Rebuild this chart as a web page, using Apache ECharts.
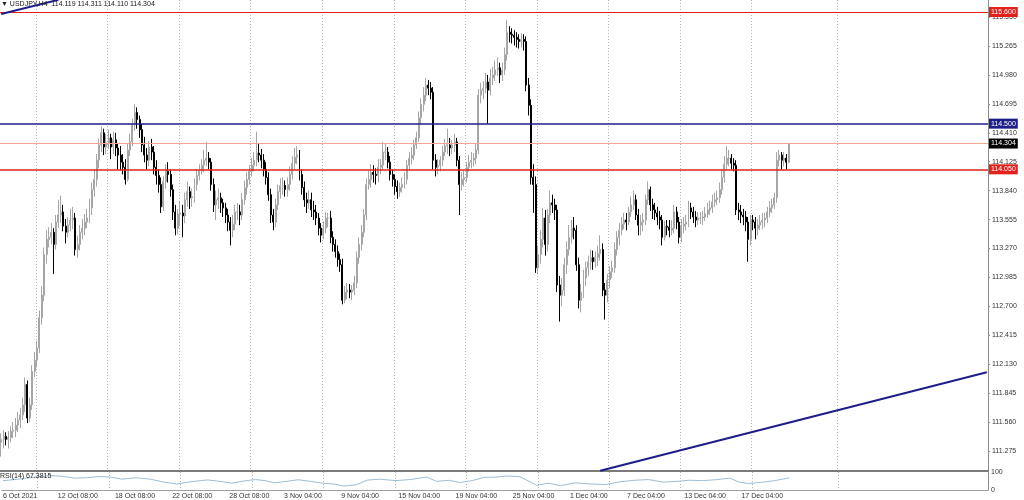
<!DOCTYPE html>
<html><head><meta charset="utf-8">
<script src="https://cdn.jsdelivr.net/npm/echarts@6/dist/echarts.min.js"></script>
<style>html,body{margin:0;padding:0;background:#fff}#c{width:1024px;height:500px}</style>
</head><body><div id="c"></div>
<script>
const symbolName = 'USDJPY,H4';
const opens = [
111.36,111.39,111.42,111.39,111.41,111.47,111.48,111.53,111.58,111.63,
111.73,111.93,111.60,111.73,112.06,112.17,112.29,112.59,112.81,113.21,
113.36,113.38,113.43,113.31,113.53,113.60,113.63,113.49,113.43,113.50,
113.55,113.57,113.26,113.31,113.43,113.47,113.53,113.57,113.67,113.85,
113.95,114.14,114.29,114.41,114.27,114.31,114.36,114.27,114.34,114.26,
114.19,114.12,114.07,113.95,114.24,114.32,114.49,114.61,114.54,114.44,
114.29,114.19,114.14,114.27,114.22,114.07,113.99,113.90,113.68,113.93,
114.03,114.00,113.85,113.63,113.47,113.61,113.62,113.59,113.75,113.83,
113.77,113.78,113.90,113.99,114.04,114.09,114.14,114.16,114.12,113.90,
113.70,113.75,113.77,113.72,113.67,113.60,113.53,113.45,113.51,113.63,
113.63,113.60,113.75,113.87,113.95,114.03,114.09,114.14,114.21,114.19,
114.14,114.05,113.97,113.80,113.60,113.53,113.70,113.83,113.89,113.89,
113.85,113.90,114.00,114.11,114.17,114.19,114.00,113.87,113.75,113.72,
113.75,113.65,113.63,113.57,113.47,113.40,113.47,113.57,113.57,113.38,
113.31,113.24,113.16,113.11,112.76,112.84,112.86,112.84,112.86,112.93,
113.18,113.31,113.43,113.60,113.90,113.95,114.02,114.00,113.99,114.07,
114.09,114.22,114.22,114.12,114.00,113.95,113.88,113.83,113.87,113.90,
113.95,114.09,114.16,114.19,114.29,114.36,114.56,114.69,114.78,114.88,
114.85,114.81,114.14,114.07,114.09,114.14,114.22,114.28,114.29,114.26,
114.29,114.32,114.14,113.90,113.95,113.97,114.07,114.12,114.14,114.16,
114.24,114.78,114.83,114.85,114.91,114.83,114.95,114.98,115.03,115.05,
114.98,115.03,115.18,115.40,115.38,115.37,115.35,115.33,115.31,115.33,
115.31,114.88,114.68,113.97,113.90,113.08,113.21,113.36,113.57,113.31,
113.60,113.72,113.70,113.65,112.91,112.81,112.86,113.11,113.26,113.38,
113.47,113.45,113.11,112.76,112.84,112.98,113.08,113.14,113.18,113.14,
113.18,113.22,113.26,112.86,112.81,112.96,113.04,113.08,113.26,113.38,
113.45,113.51,113.55,113.53,113.63,113.70,113.75,113.60,113.50,113.53,
113.55,113.75,113.85,113.70,113.65,113.62,113.58,113.55,113.38,113.49,
113.48,113.45,113.47,113.63,113.53,113.38,113.49,113.51,113.53,113.67,
113.63,113.58,113.55,113.57,113.57,113.58,113.61,113.65,113.67,113.73,
113.75,113.77,113.85,113.97,114.10,114.16,114.16,114.11,114.09,113.65,
113.63,113.60,113.58,113.53,113.36,113.55,113.53,113.47,113.50,113.53,
113.55,113.57,113.63,113.67,113.70,113.77,114.14,114.19,114.14,114.16,114.119];
const highs = [
111.45,111.48,111.46,111.47,111.52,111.56,111.60,111.66,111.70,111.80,
112.00,111.97,111.80,112.12,112.25,112.36,112.66,112.90,113.28,113.45,
113.48,113.52,113.47,113.60,113.75,113.79,113.70,113.56,113.58,113.66,
113.68,113.62,113.40,113.50,113.56,113.61,113.66,113.76,113.92,114.05,
114.20,114.35,114.47,114.45,114.40,114.44,114.40,114.42,114.41,114.31,
114.28,114.20,114.15,114.30,114.40,114.55,114.69,114.66,114.58,114.50,
114.37,114.26,114.33,114.35,114.28,114.14,114.05,113.97,113.98,114.10,
114.12,114.05,113.90,113.70,113.66,113.74,113.70,113.82,113.93,113.88,
113.86,113.96,114.05,114.10,114.15,114.24,114.32,114.22,114.16,113.96,
113.84,113.86,113.82,113.76,113.72,113.66,113.58,113.60,113.70,113.72,
113.70,113.82,113.94,114.02,114.09,114.16,114.22,114.42,114.30,114.25,
114.20,114.12,114.02,113.86,113.66,113.76,113.90,113.96,113.97,113.94,
113.97,114.08,114.18,114.26,114.28,114.24,114.05,113.93,113.82,113.84,
113.82,113.74,113.70,113.62,113.52,113.54,113.63,113.62,113.64,113.44,
113.36,113.30,113.22,113.17,112.90,112.93,112.92,112.91,113.00,113.24,
113.38,113.50,113.66,113.96,114.04,114.10,114.09,114.06,114.15,114.15,
114.32,114.30,114.27,114.18,114.05,114.00,113.94,113.92,113.97,114.02,
114.14,114.22,114.27,114.34,114.42,114.62,114.75,114.86,114.95,114.93,
114.91,114.86,114.20,114.15,114.18,114.28,114.35,114.45,114.36,114.34,
114.40,114.36,114.18,114.02,114.04,114.12,114.19,114.22,114.21,114.30,
114.84,114.90,114.92,115.00,114.98,115.04,115.06,115.12,115.15,115.10,
115.10,115.25,115.52,115.46,115.44,115.42,115.40,115.38,115.39,115.38,
115.36,114.95,114.74,114.10,113.98,113.30,113.45,113.67,113.65,113.66,
113.84,113.80,113.76,113.70,113.00,112.98,113.18,113.34,113.50,113.55,
113.58,113.50,113.18,112.92,113.06,113.14,113.20,113.26,113.25,113.24,
113.30,113.40,113.32,112.93,113.02,113.10,113.15,113.33,113.44,113.52,
113.58,113.62,113.62,113.68,113.78,113.84,113.80,113.66,113.60,113.62,
113.80,113.93,113.88,113.76,113.72,113.68,113.64,113.60,113.54,113.55,
113.55,113.55,113.70,113.68,113.58,113.56,113.58,113.60,113.74,113.72,
113.68,113.64,113.63,113.63,113.64,113.68,113.72,113.74,113.80,113.82,
113.84,113.92,114.05,114.18,114.28,114.24,114.20,114.16,114.14,113.72,
113.70,113.66,113.64,113.58,113.60,113.60,113.58,113.56,113.60,113.62,
113.62,113.68,113.74,113.76,113.82,114.22,114.24,114.22,114.22,114.20,114.311];
const lows = [
111.22,111.30,111.33,111.30,111.36,111.40,111.41,111.46,111.50,111.58,
111.66,111.55,111.56,111.68,112.00,112.10,112.24,112.52,112.75,113.12,
113.28,113.31,113.02,113.26,113.47,113.52,113.44,113.32,113.38,113.44,
113.46,113.20,113.18,113.25,113.36,113.40,113.47,113.52,113.60,113.78,
113.88,114.06,114.22,114.19,114.20,114.25,114.15,114.20,114.18,114.05,
114.04,114.00,113.90,113.93,114.18,114.28,114.43,114.45,114.36,114.22,
114.12,114.05,114.08,114.14,114.00,113.90,113.82,113.62,113.64,113.86,
113.92,113.78,113.55,113.40,113.41,113.49,113.38,113.52,113.68,113.66,
113.68,113.72,113.84,113.94,114.00,114.02,114.08,114.05,113.84,113.63,
113.55,113.66,113.62,113.58,113.52,113.44,113.30,113.38,113.45,113.55,
113.50,113.55,113.70,113.80,113.90,113.98,114.03,114.08,114.12,114.06,
113.98,113.90,113.74,113.52,113.45,113.48,113.65,113.76,113.80,113.78,
113.78,113.84,113.95,114.05,114.10,113.94,113.80,113.68,113.62,113.66,
113.58,113.55,113.50,113.40,113.33,113.36,113.42,113.48,113.32,113.24,
113.18,113.09,113.04,112.72,112.73,112.77,112.78,112.76,112.81,112.88,
113.12,113.25,113.38,113.55,113.85,113.87,113.92,113.90,113.92,114.00,
114.04,114.14,114.06,113.94,113.88,113.80,113.76,113.78,113.82,113.86,
113.90,114.04,114.10,114.14,114.25,114.32,114.50,114.62,114.72,114.78,
114.74,114.05,113.98,114.00,114.03,114.08,114.18,114.20,114.18,114.20,
114.22,114.08,113.60,113.84,113.88,113.92,114.03,114.06,114.08,114.10,
114.20,114.70,114.74,114.80,114.50,114.78,114.88,114.92,114.97,114.90,
114.92,114.98,115.12,115.30,115.29,115.27,115.25,115.24,115.25,115.22,
114.82,114.58,113.90,113.62,113.03,113.02,113.12,113.28,113.20,113.24,
113.52,113.62,113.55,112.84,112.55,112.70,112.80,113.02,113.20,113.32,
113.36,113.05,112.68,112.64,112.78,112.90,113.00,113.06,113.06,113.08,
113.10,113.15,112.80,112.57,112.74,112.88,112.98,113.03,113.20,113.30,
113.40,113.46,113.45,113.50,113.58,113.65,113.55,113.40,113.40,113.44,
113.50,113.70,113.64,113.56,113.55,113.50,113.46,113.30,113.35,113.40,
113.38,113.40,113.42,113.46,113.32,113.33,113.42,113.45,113.48,113.56,
113.52,113.48,113.50,113.51,113.50,113.54,113.57,113.60,113.62,113.68,
113.70,113.72,113.80,113.92,114.04,114.08,114.05,114.03,113.60,113.55,
113.52,113.50,113.44,113.14,113.30,113.45,113.36,113.40,113.45,113.46,
113.48,113.52,113.58,113.62,113.66,113.72,114.08,114.05,114.08,114.05,114.110];
const closes = [
111.39,111.42,111.39,111.41,111.47,111.48,111.53,111.58,111.63,111.73,
111.93,111.60,111.73,112.06,112.17,112.29,112.59,112.81,113.21,113.36,
113.38,113.43,113.31,113.53,113.60,113.63,113.49,113.43,113.50,113.55,
113.57,113.26,113.31,113.43,113.47,113.53,113.57,113.67,113.85,113.95,
114.14,114.29,114.41,114.27,114.31,114.36,114.27,114.34,114.26,114.19,
114.12,114.07,113.95,114.24,114.32,114.49,114.61,114.54,114.44,114.29,
114.19,114.14,114.27,114.22,114.07,113.99,113.90,113.68,113.93,114.03,
114.00,113.85,113.63,113.47,113.61,113.62,113.59,113.75,113.83,113.77,
113.78,113.90,113.99,114.04,114.09,114.14,114.16,114.12,113.90,113.70,
113.75,113.77,113.72,113.67,113.60,113.53,113.45,113.51,113.63,113.63,
113.60,113.75,113.87,113.95,114.03,114.09,114.14,114.21,114.19,114.14,
114.05,113.97,113.80,113.60,113.53,113.70,113.83,113.89,113.89,113.85,
113.90,114.00,114.11,114.17,114.19,114.00,113.87,113.75,113.72,113.75,
113.65,113.63,113.57,113.47,113.40,113.47,113.57,113.57,113.38,113.31,
113.24,113.16,113.11,112.76,112.84,112.86,112.84,112.86,112.93,113.18,
113.31,113.43,113.60,113.90,113.95,114.02,114.00,113.99,114.07,114.09,
114.22,114.22,114.12,114.00,113.95,113.88,113.83,113.87,113.90,113.95,
114.09,114.16,114.19,114.29,114.36,114.56,114.69,114.78,114.88,114.85,
114.81,114.14,114.07,114.09,114.14,114.22,114.28,114.29,114.26,114.29,
114.32,114.14,113.90,113.95,113.97,114.07,114.12,114.14,114.16,114.24,
114.78,114.83,114.85,114.91,114.83,114.95,114.98,115.03,115.05,114.98,
115.03,115.18,115.40,115.38,115.37,115.35,115.33,115.31,115.33,115.31,
114.88,114.68,113.97,113.90,113.08,113.21,113.36,113.57,113.31,113.60,
113.72,113.70,113.65,112.91,112.81,112.86,113.11,113.26,113.38,113.47,
113.45,113.11,112.76,112.84,112.98,113.08,113.14,113.18,113.14,113.18,
113.22,113.26,112.86,112.81,112.96,113.04,113.08,113.26,113.38,113.45,
113.51,113.55,113.53,113.63,113.70,113.75,113.60,113.50,113.53,113.55,
113.75,113.85,113.70,113.65,113.62,113.58,113.55,113.38,113.49,113.48,
113.45,113.47,113.63,113.53,113.38,113.49,113.51,113.53,113.67,113.63,
113.58,113.55,113.57,113.57,113.58,113.61,113.65,113.67,113.73,113.75,
113.77,113.85,113.97,114.10,114.16,114.16,114.11,114.09,113.65,113.63,
113.60,113.58,113.53,113.36,113.55,113.53,113.47,113.50,113.53,113.55,
113.57,113.63,113.67,113.70,113.77,114.14,114.19,114.14,114.16,114.12,114.304];

const dateLabels = ['6 Oct 2021','12 Oct 08:00','18 Oct 08:00','22 Oct 08:00','28 Oct 08:00','3 Nov 04:00','9 Nov 04:00','15 Nov 04:00','19 Nov 04:00','25 Nov 04:00','1 Dec 04:00','7 Dec 04:00','13 Dec 04:00','17 Dec 04:00'];
const dateLabelIdx = [0,23,47,71,95,118,142,166,190,214,238,262,286,310];
const weekGridIdx = [15,45,75,105,135,165,195,225,255,285,315,351];
const priceTicks = [111.275,111.560,111.845,112.130,112.415,112.700,112.985,113.270,113.555,113.840,114.125,114.410,114.695,114.980,115.265,115.550];
const levelValues = [115.600, 114.500, 114.050];
const trendA = [[0,115.58],[24,115.72]];
const trendB = [[251,111.08],[413,112.05]];
const rsiIdx = [0,5,10,15,20,25,30,35,40,45,50,56,62,67,73,80,86,92,96,101,106,110,114,119,124,129,134,139,143,148,153,158,165,171,178,182,187,192,197,202,207,212,217,222,224,229,234,240,246,253,259,265,271,277,283,288,294,300,305,309,313,318,324,330];
const rsiVals = [52,58,66,74,80,76,66,68,75,72,60,68,60,45,33,48,56,46,38,50,58,52,40,48,57,48,38,33,22,28,55,60,52,58,72,48,54,42,52,70,72,78,74,40,26,38,24,40,34,30,46,54,58,44,48,54,52,58,66,44,36,42,52,67.3815];
const rsiTicks = [100,70,30,0];
const priceMin = 111.078, priceMax = 115.718;
const nSlots = 414;

const FONT = 'Liberation Sans, DejaVu Sans, sans-serif';
const last = closes.length - 1;
const cats = [];
for (let i = 0; i < nSlots; i++) cats.push('b' + i);
const labelMap = new Map(dateLabelIdx.map((k, j) => [k, dateLabels[j]]));
const gridSet = new Set(weekGridIdx);
const candleData = opens.map((o, i) => [o, closes[i], lows[i], highs[i]]);
const levelColors = ['#e3201c', '#1f1f8c', '#e3201c'];
const levelWidths = [1, 1.6, 1.5];

const mk = (v, lineColor, boxColor, w) => ({
  yAxis: v,
  lineStyle: { color: lineColor, width: w, type: 'solid' },
  label: { show: true, position: 'end', distance: 1, formatter: p => Number(p.value).toFixed(3),
    color: '#fff', backgroundColor: boxColor, padding: [2, 2, 1, 2], fontSize: 7, fontFamily: FONT }
});
const markData = levelValues.map((v, k) => mk(v, levelColors[k], levelColors[k], levelWidths[k]));
markData.push(mk(closes[last], '#f3a48e', '#000000', 1));

const splitStyle = { show: true, interval: (i) => gridSet.has(i), lineStyle: { color: '#b4b4b4', type: [1, 2], width: 1 } };

const chart = echarts.init(document.getElementById('c'), null, { renderer: 'canvas' });
chart.setOption({
  animation: false,
  backgroundColor: '#ffffff',
  title: [
    { text: '▼ ' + symbolName + '  ' + [opens[last], highs[last], lows[last], closes[last]].map(v => v.toFixed(3)).join(' '),
      left: 1, top: 1, padding: 0, textStyle: { fontSize: 7, fontWeight: 'normal', color: '#222', fontFamily: FONT } },
    { text: 'RSI(14) ' + rsiVals[rsiVals.length - 1].toFixed(4),
      left: 0, top: 473, padding: 0, textStyle: { fontSize: 7, fontWeight: 'normal', color: '#222', fontFamily: FONT } }
  ],
  grid: [
    { left: 0, right: 36, top: 0, height: 471 },
    { left: 0, right: 36, top: 472, height: 18 }
  ],
  xAxis: [
    { type: 'category', gridIndex: 0, data: cats, boundaryGap: true,
      axisLine: { show: true, onZero: false, lineStyle: { color: '#505050', width: 1.5 } },
      axisTick: { show: false }, axisLabel: { show: false }, splitLine: splitStyle },
    { type: 'category', gridIndex: 1, data: cats, boundaryGap: true,
      axisLine: { show: true, onZero: false, lineStyle: { color: '#a0a0a0', width: 1 } },
      axisTick: { show: false },
      axisLabel: { show: true, interval: (i) => labelMap.has(i), formatter: (v, i) => labelMap.get(i) || '',
        align: 'left', fontSize: 7, color: '#333', margin: 3, fontFamily: FONT },
      splitLine: splitStyle }
  ],
  yAxis: [
    { type: 'value', gridIndex: 0, position: 'right', min: priceMin, max: priceMax, scale: true,
      axisLine: { show: true, lineStyle: { color: '#8c8c8c' } },
      axisTick: { show: true, length: 2, customValues: priceTicks, lineStyle: { color: '#8c8c8c' } },
      axisLabel: { customValues: priceTicks, formatter: v => v.toFixed(3), fontSize: 7, color: '#333', margin: 4, fontFamily: FONT },
      splitLine: { show: false } },
    { type: 'value', gridIndex: 1, position: 'right', min: 0, max: 100,
      axisLine: { show: true, lineStyle: { color: '#8c8c8c' } },
      axisTick: { show: false },
      axisLabel: { customValues: rsiTicks, showMinLabel: true, showMaxLabel: true, hideOverlap: false,
        fontSize: 7, color: '#333', margin: 3, fontFamily: FONT },
      splitLine: { show: false } }
  ],
  series: [
    { type: 'candlestick', xAxisIndex: 0, yAxisIndex: 0, data: candleData, barWidth: '62%',
      itemStyle: { color: '#dcdcdc', color0: '#000000', borderColor: '#a6a6a6', borderColor0: '#000000', borderWidth: 1 },
      markLine: { symbol: 'none', silent: true, precision: 3, animation: false, data: markData } },
    { type: 'line', xAxisIndex: 0, yAxisIndex: 0, data: trendA, showSymbol: false, clip: true, z: 5,
      lineStyle: { color: '#1e1e8a', width: 2 } },
    { type: 'line', xAxisIndex: 0, yAxisIndex: 0, data: trendB, showSymbol: false, clip: true, z: 5,
      lineStyle: { color: '#1e1e8a', width: 2 } },
    { type: 'line', xAxisIndex: 1, yAxisIndex: 1, data: rsiIdx.map((x, k) => [x, rsiVals[k]]), showSymbol: false,
      lineStyle: { color: '#9dbdd3', width: 1 } }
  ]
});
</script></body></html>
